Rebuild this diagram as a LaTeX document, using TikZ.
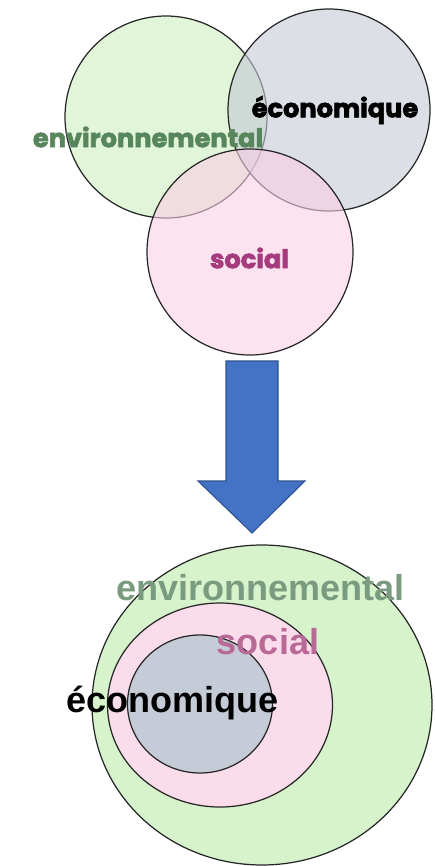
\documentclass[tikz,border=0pt]{standalone}
\usepackage{fontspec}
\usetikzlibrary{shapes.geometric}

\newfontfamily\heavyfont{Poppins}[BoldFeatures={FakeBold=2.5}]
\newfontfamily\arialfont{Liberation Sans}

\definecolor{envfill}{RGB}{205,238,190}
\definecolor{ecofill}{RGB}{196,201,214}
\definecolor{socfill}{RGB}{251,206,229}
\definecolor{envtext}{RGB}{88,134,92}
\definecolor{soctext}{RGB}{165,58,125}
\definecolor{envring}{RGB}{214,243,204}
\definecolor{socring}{RGB}{251,220,235}
\definecolor{ecoring}{RGB}{197,204,216}
\definecolor{envlight}{RGB}{122,155,128}
\definecolor{soclight}{RGB}{185,105,150}
\definecolor{arrowblue}{RGB}{68,114,196}
\definecolor{arrowedge}{RGB}{47,82,143}

\begin{document}
\begin{tikzpicture}[venn/.style={circle,draw=black!85,line width=0.7pt,fill opacity=0.6,text opacity=1},
                    ring/.style={ellipse,draw=black!85,line width=0.7pt},
                    heavy/.style={font=\heavyfont\bfseries\fontsize{14.6}{15}\selectfont},
                    plain label/.style={font=\arialfont\bfseries\fontsize{20.5}{20.5}\selectfont}]

  \useasboundingbox (0,0) rectangle (8.68,-17.32);

  % three circles at the top
  \node[venn,fill=envfill,minimum size=4.04cm] (env) at (3.32,-2.34) {};
  \node[venn,fill=ecofill,minimum size=4.04cm] (eco) at (6.58,-2.20) {};
  \node[venn,fill=socfill,minimum size=4.12cm] (soc) at (5.00,-5.04) {};

  \node[heavy,text=envtext] (envlabel) at (2.96,-2.74) {environnemental};
  \node[heavy,text=black] (ecolabel) at (6.70,-2.20) {économique};
  \node[heavy,text=soctext] (soclabel) at (4.99,-5.16) {social};

  % arrow
  \draw[fill=arrowblue,draw=arrowedge,line width=0.6pt]
    (4.52,-7.22) -- (5.56,-7.22) -- (5.56,-9.62) -- (6.10,-9.62)
    -- (5.04,-10.66) -- (3.96,-9.62) -- (4.52,-9.62) -- cycle;

  % nested circles at the bottom
  \node[ring,fill=envring,minimum width=6.8cm,minimum height=6.4cm] (envouter) at (5.24,-14.10) {};
  \node[ring,fill=socring,minimum width=4.5cm,minimum height=4.08cm] (socmid) at (4.40,-14.10) {};
  \node[ring,fill=ecoring,minimum width=2.9cm,minimum height=2.76cm] (ecoinner) at (4.00,-14.08) {};

  \node[plain label,text=envlight] (envname) at (5.21,-11.76) {environnemental};
  \node[plain label,text=soclight] (socname) at (5.36,-12.84) {social};
  \node[plain label,text=black] (econame) at (3.45,-14.06) {économique};
\end{tikzpicture}
\end{document}
